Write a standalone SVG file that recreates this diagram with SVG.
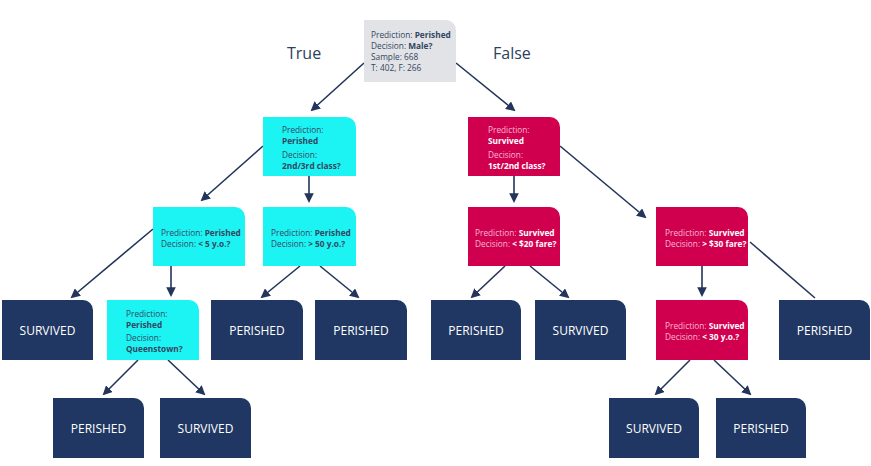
<svg xmlns="http://www.w3.org/2000/svg" width="871" height="466" viewBox="0 0 871 466">
<defs>
<style>
.g{fill:#e1e3e6}.c{fill:#1cf4f4}.r{fill:#d1004f}.d{fill:#1f3762}
text{font-family:"Open Sans","Noto Sans","Liberation Sans",sans-serif}
.s{font-size:8.3px;fill:#34465f}.b{font-weight:700}
.sr{font-size:8.3px;fill:#f7b8d0}.w{fill:#ffffff;font-weight:700}
.big{font-size:12px;fill:#ffffff;text-anchor:middle}
.lab{font-size:16px;fill:#2e4060}
.cn line{stroke:#23355a;stroke-width:1.6;marker-end:url(#ah)}
</style>
<marker id="ah" viewBox="0 0 10 10" refX="8" refY="5" markerWidth="6" markerHeight="6" orient="auto" markerUnits="strokeWidth"><path d="M0,0 L10,5 L0,10 z" fill="#23355a"/></marker>
</defs>
<rect width="871" height="466" fill="#ffffff"/>
<g class="cn">
<line x1="364" y1="63" x2="312" y2="110"/>
<line x1="456" y1="63" x2="514" y2="110"/>
<line x1="263" y1="146" x2="202" y2="200"/>
<line x1="309" y1="176" x2="309" y2="201"/>
<line x1="514" y1="176" x2="514" y2="201"/>
<line x1="560" y1="146" x2="645" y2="217"/>
<line x1="153" y1="229" x2="72" y2="297"/>
<line x1="171" y1="266" x2="171" y2="295"/>
<line x1="300" y1="266" x2="262" y2="297"/>
<line x1="320" y1="266" x2="358" y2="297"/>
<line x1="505" y1="266" x2="472" y2="297"/>
<line x1="530" y1="266" x2="568" y2="297"/>
<line x1="702" y1="266" x2="702" y2="295"/>
<line x1="750" y1="242" x2="815" y2="298" style="marker-end:none"/>
<line x1="138" y1="360" x2="104" y2="394"/>
<line x1="168" y1="360" x2="204" y2="394"/>
<line x1="690" y1="360" x2="656" y2="394"/>
<line x1="714" y1="360" x2="750" y2="394"/>
</g>
<text class="lab" x="287" y="59">True</text>
<text class="lab" x="493" y="59">False</text>
<g id="root"><path class="g" d="M364,20 H446 A10,10 0 0 1 456,30 V82 H364 Z"/>
<text class="s" x="371" y="38">Prediction: <tspan class="b">Perished</tspan></text>
<text class="s" x="371" y="49">Decision: <tspan class="b">Male?</tspan></text>
<text class="s" x="371" y="60">Sample: 668</text>
<text class="s" x="371" y="71">T: 402, F: 266</text></g>
<g id="n_class23"><path class="c" d="M263,117 H346 A10,10 0 0 1 356,127 V176 H263 Z"/>
<text class="s" x="282" y="133">Prediction:</text>
<text class="s b" x="282" y="144">Perished</text>
<text class="s" x="282" y="158">Decision:</text>
<text class="s b" x="282" y="169">2nd/3rd class?</text></g>
<g id="n_class12"><path class="r" d="M468,117 H550 A10,10 0 0 1 560,127 V176 H468 Z"/>
<text class="sr" x="488" y="133">Prediction:</text>
<text class="sr w" x="488" y="144">Survived</text>
<text class="sr" x="488" y="158">Decision:</text>
<text class="sr w" x="488" y="169">1st/2nd class?</text></g>
<g id="n_lt5"><path class="c" d="M153,207 H235 A10,10 0 0 1 245,217 V266 H153 Z"/>
<text class="s" x="161" y="236">Prediction: <tspan class="b">Perished</tspan></text>
<text class="s" x="161" y="247">Decision: <tspan class="b">&lt; 5 y.o.?</tspan></text></g>
<g id="n_gt50"><path class="c" d="M263,207 H346 A10,10 0 0 1 356,217 V266 H263 Z"/>
<text class="s" x="271" y="236">Prediction: <tspan class="b">Perished</tspan></text>
<text class="s" x="271" y="247">Decision: <tspan class="b">&gt; 50 y.o.?</tspan></text></g>
<g id="n_lt20"><path class="r" d="M468,207 H550 A10,10 0 0 1 560,217 V266 H468 Z"/>
<text class="sr" x="475" y="236">Prediction: <tspan class="w">Survived</tspan></text>
<text class="sr" x="475" y="247">Decision: <tspan class="w">&lt; $20 fare?</tspan></text></g>
<g id="n_gt30"><path class="r" d="M656,207 H738 A10,10 0 0 1 748,217 V266 H656 Z"/>
<text class="sr" x="665" y="236">Prediction: <tspan class="w">Survived</tspan></text>
<text class="sr" x="665" y="247">Decision: <tspan class="w">&gt; $30 fare?</tspan></text></g>
<g id="l_surv1"><path class="d" d="M2,300 H83 A10,10 0 0 1 93,310 V360 H2 Z"/><text class="big" x="47.5" y="335">SURVIVED</text></g>
<g id="n_queens"><path class="c" d="M107,300 H189 A10,10 0 0 1 199,310 V360 H107 Z"/>
<text class="s" x="126" y="317">Prediction:</text>
<text class="s b" x="126" y="328">Perished</text>
<text class="s" x="126" y="341">Decision:</text>
<text class="s b" x="126" y="352">Queenstown?</text></g>
<g id="l_per1"><path class="d" d="M211,300 H293 A10,10 0 0 1 303,310 V360 H211 Z"/><text class="big" x="257" y="335">PERISHED</text></g>
<g id="l_per2"><path class="d" d="M315,300 H397 A10,10 0 0 1 407,310 V360 H315 Z"/><text class="big" x="361" y="335">PERISHED</text></g>
<g id="l_per3"><path class="d" d="M431,300 H511 A10,10 0 0 1 521,310 V360 H431 Z"/><text class="big" x="476" y="335">PERISHED</text></g>
<g id="l_surv2"><path class="d" d="M535,300 H616 A10,10 0 0 1 626,310 V360 H535 Z"/><text class="big" x="580.5" y="335">SURVIVED</text></g>
<g id="n_lt30"><path class="r" d="M656,300 H738 A10,10 0 0 1 748,310 V360 H656 Z"/>
<text class="sr" x="665" y="329">Prediction: <tspan class="w">Survived</tspan></text>
<text class="sr" x="665" y="340">Decision: <tspan class="w">&lt; 30 y.o.?</tspan></text></g>
<g id="l_per4"><path class="d" d="M779,300 H860 A10,10 0 0 1 870,310 V360 H779 Z"/><text class="big" x="824.5" y="335">PERISHED</text></g>
<g id="l_per5"><path class="d" d="M53,398 H134 A10,10 0 0 1 144,408 V458 H53 Z"/><text class="big" x="98.5" y="433">PERISHED</text></g>
<g id="l_surv3"><path class="d" d="M160,398 H241 A10,10 0 0 1 251,408 V458 H160 Z"/><text class="big" x="205.5" y="433">SURVIVED</text></g>
<g id="l_surv4"><path class="d" d="M609,398 H689 A10,10 0 0 1 699,408 V458 H609 Z"/><text class="big" x="654" y="433">SURVIVED</text></g>
<g id="l_per6"><path class="d" d="M716,398 H796 A10,10 0 0 1 806,408 V458 H716 Z"/><text class="big" x="761" y="433">PERISHED</text></g>
</svg>
